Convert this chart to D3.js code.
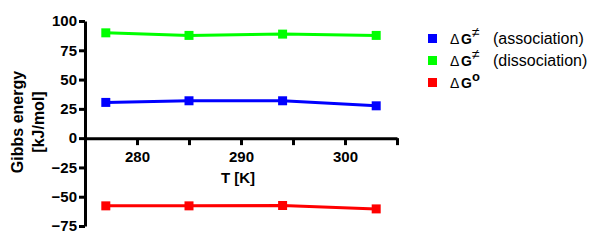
<!DOCTYPE html>
<html>
<head>
<meta charset="utf-8">
<script src="https://cdn.jsdelivr.net/npm/d3@7"></script>
<style>
  body { margin: 0; background: #fff; }
  svg { display: block; font-family: "Liberation Sans", Arial, sans-serif; }
  .axis path, .axis line { stroke: #000; stroke-width: 3; }
  .axis text { font-size: 15px; font-weight: bold; fill: #000; }
</style>
</head>
<body>
<svg id="chart"></svg>
<script>
// temperatures (K)
const temps = [277, 285, 294, 303];

// Gibbs energies (kJ/mol)
const dgAssoc = [30.5, 31.9, 31.9, 27.6];
const dgDissoc = [89.9, 87.7, 88.8, 87.7];
const dgStd = [-57.8, -57.8, -57.5, -60.4];

const yTicks = [-75, -50, -25, 0, 25, 50, 75, 100];
const xTicks = [280, 285, 290, 295, 300, 305];
const xLabels = [280, 290, 300];

const seriesNames = ['assoc', 'dissoc', 'std'];
const seriesColors = ['#0000ff', '#00ff00', '#ff0000'];

const width = 600, height = 243;
const margin = { left: 85, top: 21 };

const svg = d3.select('#chart')
  .attr('width', width)
  .attr('height', height);

const x = d3.scaleLinear().domain([275, 305]).range([margin.left, margin.left + 312]);
const y = d3.scaleLinear().domain([-75, 100]).range([226, margin.top]);

const series = [dgAssoc, dgDissoc, dgStd].map((vals, i) => ({
  name: seriesNames[i],
  color: seriesColors[i],
  points: vals.map((v, j) => ({ t: temps[j], g: v }))
}));

// axes
const yAxis = d3.axisLeft(y)
  .tickValues(yTicks)
  .tickSize(6)
  .tickSizeOuter(0)
  .tickPadding(2);

svg.append('g')
  .attr('class', 'axis y-axis')
  .attr('transform', `translate(${margin.left},0)`)
  .call(yAxis);

const xAxis = d3.axisBottom(x)
  .tickValues(xTicks)
  .tickSize(7)
  .tickSizeOuter(0)
  .tickPadding(6)
  .tickFormat(d => xLabels.includes(d) ? d : '');

svg.append('g')
  .attr('class', 'axis x-axis')
  .attr('transform', `translate(0,${y(0)})`)
  .call(xAxis);

// lines + markers
const line = d3.line()
  .x(d => x(d.t))
  .y(d => y(d.g));

const sg = svg.selectAll('.series')
  .data(series)
  .join('g')
  .attr('class', 'series');

sg.append('path')
  .attr('d', d => line(d.points))
  .attr('fill', 'none')
  .attr('stroke', d => d.color)
  .attr('stroke-width', 3);

sg.selectAll('path.mark')
  .data(d => d.points.map(p => ({ ...p, color: d.color })))
  .join('path')
  .attr('class', 'mark')
  .attr('d', d3.symbol(d3.symbolSquare, 81))
  .attr('transform', d => `translate(${x(d.t)},${y(d.g)})`)
  .attr('fill', d => d.color);

// axis titles
const yTitle = svg.append('text')
  .attr('transform', 'translate(17,122) rotate(-90)')
  .attr('text-anchor', 'middle')
  .style('font-size', '16px')
  .style('font-weight', 'bold');
yTitle.append('tspan').attr('x', 0).attr('dy', '0.35em').text('Gibbs energy');
yTitle.append('tspan').attr('x', 0).attr('dy', 21).text('[kJ/mol]');

svg.append('text')
  .attr('x', 238)
  .attr('y', 183)
  .attr('text-anchor', 'middle')
  .style('font-size', '15px')
  .style('font-weight', 'bold')
  .text('T [K]');

// legend
const legendItems = [
  { color: seriesColors[0], sup: '≠', rest: '(association)' },
  { color: seriesColors[1], sup: '≠', rest: '(dissociation)' },
  { color: seriesColors[2], sup: 'o', rest: '' }
];

const lg = svg.selectAll('.legend')
  .data(legendItems)
  .join('g')
  .attr('class', 'legend')
  .attr('transform', (d, i) => `translate(428,${34 + i * 22})`);

lg.append('rect')
  .attr('width', 9)
  .attr('height', 9)
  .attr('fill', d => d.color);

const lt = lg.append('text')
  .attr('y', 10)
  .style('font-size', '16px');
lt.append('tspan').attr('x', 22).style('font-size', '14px').text('Δ');
lt.append('tspan').attr('x', 33).style('font-size', '14px').style('font-weight', 'bold').text('G');
lt.append('tspan')
  .attr('x', 44)
  .attr('y', 3)
  .style('font-size', d => d.sup === 'o' ? '13px' : '14px')
  .style('font-weight', d => d.sup === 'o' ? 'bold' : 'normal')
  .text(d => d.sup);
lt.append('tspan')
  .attr('x', 65)
  .attr('y', 10)
  .text(d => d.rest);
</script>
</body>
</html>
